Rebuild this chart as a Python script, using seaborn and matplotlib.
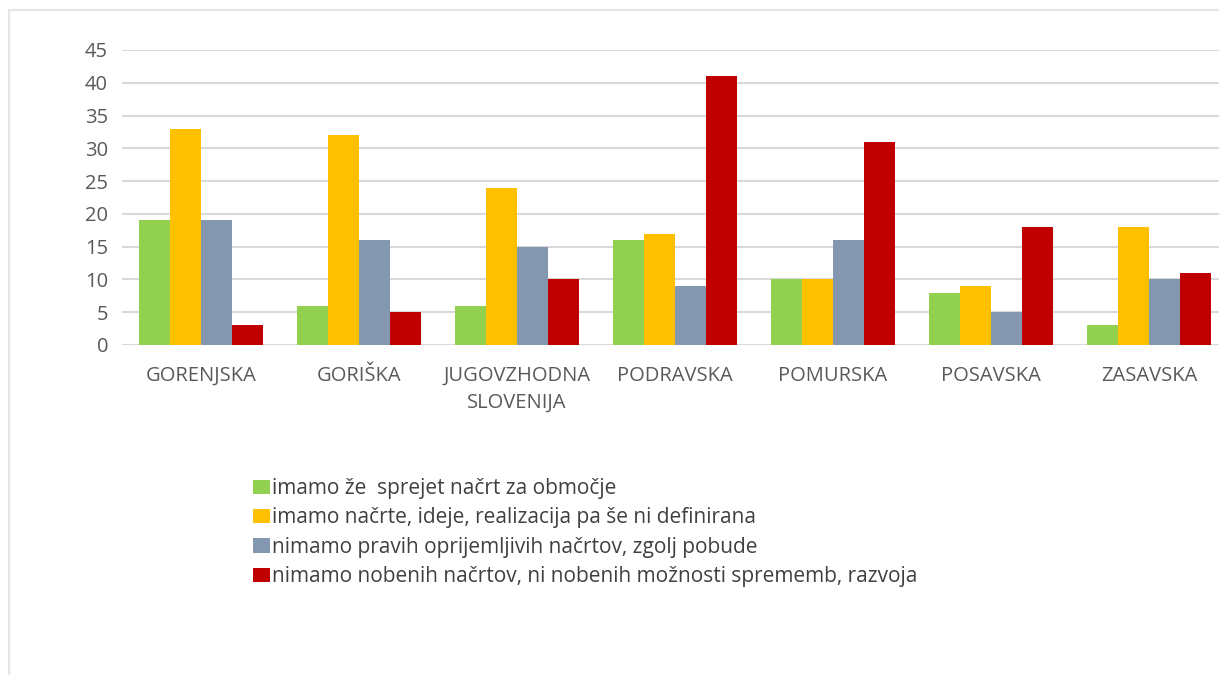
import matplotlib
matplotlib.use("Agg")
import matplotlib.pyplot as plt
import seaborn as sns
import pandas as pd
from matplotlib.patches import Patch, Rectangle

categories = ["GORENJSKA", "GORIŠKA", "JUGOVZHODNA\nSLOVENIJA", "PODRAVSKA",
              "POMURSKA", "POSAVSKA", "ZASAVSKA"]
series_names = [
    "imamo že  sprejet načrt za območje",
    "imamo načrte, ideje, realizacija pa še ni definirana",
    "nimamo pravih oprijemljivih načrtov, zgolj pobude",
    "nimamo nobenih načrtov, ni nobenih možnosti sprememb, razvoja",
]
s1 = [19, 6, 6, 16, 10, 8, 3]
s2 = [33, 32, 24, 17, 10, 9, 18]
s3 = [19, 16, 15, 9, 16, 5, 10]
s4 = [3, 5, 10, 41, 31, 18, 11]
colors = ["#92D050", "#FFC000", "#8497B0", "#C00000"]
yticks = [0, 5, 10, 15, 20, 25, 30, 35, 40, 45]

rows = []
for name, vals in zip(series_names, [s1, s2, s3, s4]):
    for c, v in zip(categories, vals):
        rows.append({"region": c, "value": v, "series": name})
df = pd.DataFrame(rows)

sns.set_theme(style="white")
plt.rcParams['font.family'] = ['Open Sans', 'DejaVu Sans']

W, H = 1219, 675
fig = plt.figure(figsize=(W / 100, H / 100), dpi=100)
left, right = 122, 1228
top, bottom = 50, 345
ax = fig.add_axes([left / W, 1 - bottom / H, (right - left) / W, (bottom - top) / H])

sns.barplot(data=df, x="region", y="value", hue="series", palette=colors,
            order=categories, hue_order=series_names, width=0.79, gap=0,
            saturation=1, ax=ax, legend=False, linewidth=0)

ax.set_ylim(0, 45)
ax.set_xlim(-0.5, 6.5)
ax.set_yticks(yticks)
ax.yaxis.grid(True, color="#D9D9D9", linewidth=1.5)
ax.set_axisbelow(True)
for s in ax.spines.values():
    s.set_visible(False)
ax.set_xlabel("")
ax.set_ylabel("")
ax.tick_params(axis="y", length=0, labelsize=14.5, labelcolor="#595959", pad=10)
ax.tick_params(axis="x", length=0, labelsize=14.5, labelcolor="#595959", pad=15)
for lbl in ax.get_xticklabels():
    lbl.set_linespacing(1.45)

handles = [Patch(facecolor=c, edgecolor="none") for c in colors]
fig.legend(handles, series_names, loc="upper left",
           bbox_to_anchor=(253 / W, 1 - 478 / H), frameon=False,
           fontsize=15, labelcolor="#404040", handlelength=0.82,
           handleheight=0.68, handletextpad=0.1, labelspacing=0.4,
           borderaxespad=0, borderpad=0)

fig.add_artist(Rectangle((9 / W, -0.1), 1.1, (1 - 10 / H) + 0.1,
                         transform=fig.transFigure, fill=False,
                         edgecolor="#E6E6E6", linewidth=1.5))

fig.savefig("out.png", dpi=100, facecolor="white")
